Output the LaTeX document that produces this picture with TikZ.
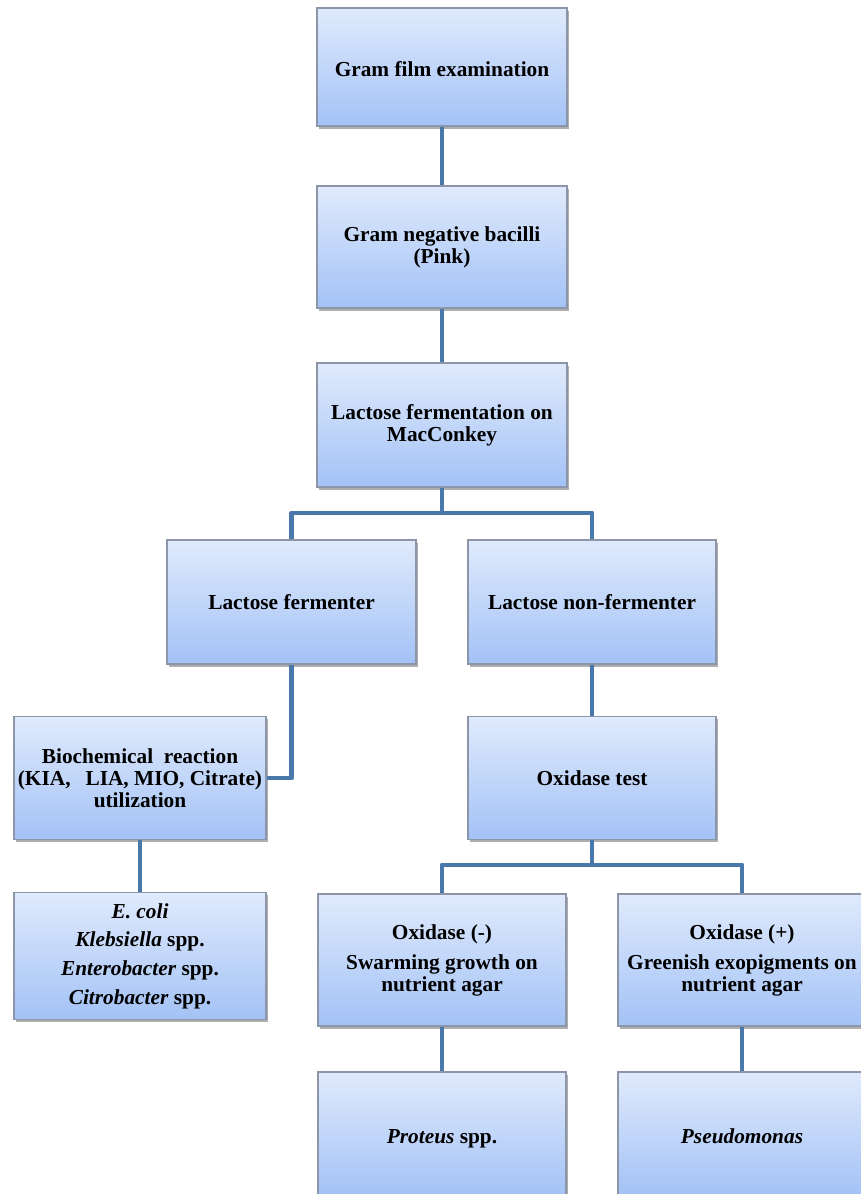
\documentclass[tikz,border=0pt]{standalone}
\usepackage{fontspec}
\setmainfont{Liberation Serif}
\usetikzlibrary{shadows}
\definecolor{linkblue}{RGB}{74,120,170}
\definecolor{boxtop}{RGB}{224,234,252}
\definecolor{boxbot}{RGB}{163,194,246}
\definecolor{boxedge}{RGB}{140,150,168}
\tikzset{
  flowbox/.style={draw=boxedge, line width=0.9pt, top color=boxtop, bottom color=boxbot,
    align=center, inner sep=0pt, font=\fontsize{16}{16.5}\selectfont\bfseries,
    drop shadow={shadow xshift=1.5pt, shadow yshift=-2.2pt, opacity=0.45, fill=black!70}},
  bx/.style 2 args={minimum width=#1*0.75pt, minimum height=#2*0.75pt},
  lowtext/.style={text height=14.5pt, text depth=0pt},
  link/.style={draw=linkblue, line width=3.7pt, line join=round}
}
\begin{document}
\begin{tikzpicture}[x=0.75pt, y=-0.75pt]
\useasboundingbox (0,0) rectangle (860,1194);
\fill[white] (0,0) rectangle (860,1194);

\node[flowbox, lowtext, bx={250}{118}] (b1) at (442,67) {Gram film examination};
\node[flowbox, bx={250}{122}] (b2) at (442,247) {Gram negative bacilli\\(Pink)};
\node[flowbox, bx={250}{124}] (b3) at (442,425) {Lactose fermentation on\\MacConkey};
\node[flowbox, bx={249}{124}] (lf) at (291.5,602) {Lactose fermenter};
\node[flowbox, bx={248}{124}] (lnf) at (592,602) {Lactose non-fermenter};
\node[flowbox, bx={252}{123}] (bio) at (140,778) {Biochemical\ \ reaction\\(KIA,\hspace{0.7em}LIA, MIO, Citrate)\\utilization};
\node[flowbox, bx={248}{123}] (ox) at (592,778) {Oxidase test};
\node[flowbox, bx={252}{127}] (eco) at (140,956) {\textit{E. coli}\\[5pt]\textit{Klebsiella} spp.\\[5pt]\textit{Enterobacter} spp.\\[5pt]\textit{Citrobacter} spp.};
\node[flowbox, bx={248}{132}] (oxn) at (442,960) {Oxidase (-)\\[6pt]Swarming growth on\\nutrient agar};
\node[flowbox, bx={248}{132}] (oxp) at (742,960) {Oxidase (+)\\[6pt]Greenish exopigments on\\nutrient agar};
\node[flowbox, lowtext, bx={248}{124}] (pro) at (442,1134) {\textit{Proteus} spp.};
\node[flowbox, lowtext, bx={248}{124}] (pse) at (742,1134) {\textit{Pseudomonas}};

\coordinate (j1) at (442,513);
\coordinate (j2) at (592,865);

\draw[link] (b1.south) -- (b2.north);
\draw[link] (b2.south) -- (b3.north);
\draw[link] (b3.south) -- (j1);
\draw[link] (lf.north) |- (j1) -| (lnf.north);
\draw[link] (lf.south) |- (bio.east);
\draw[link] (bio.south) -- (eco.north);
\draw[link] (lnf.south) -- (ox.north);
\draw[link] (ox.south) -- (j2);
\draw[link] (oxn.north) |- (j2) -| (oxp.north);
\draw[link] (oxn.south) -- (pro.north);
\draw[link] (oxp.south) -- (pse.north);
\end{tikzpicture}
\end{document}
